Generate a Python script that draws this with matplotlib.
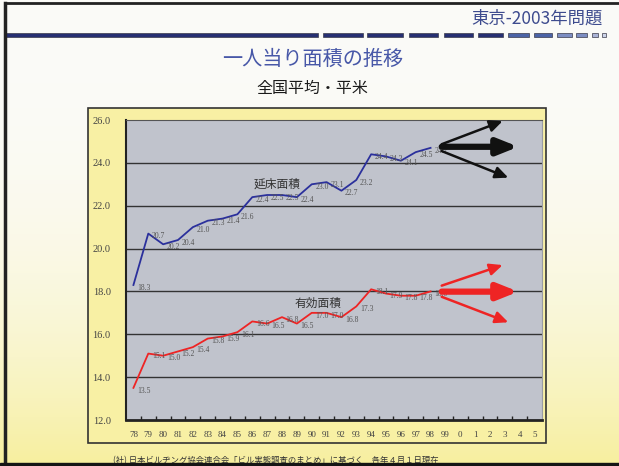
import numpy as np
import matplotlib
matplotlib.use("Agg")
import matplotlib.pyplot as plt
from matplotlib.patches import Rectangle

plt.rcParams['font.family'] = ['Liberation Serif', 'Noto Sans CJK JP']
JP = ['Noto Sans CJK JP', 'DejaVu Sans']

# データ
years = ['78', '79', '80', '81', '82', '83', '84', '85', '86', '87', '88', '89',
         '90', '91', '92', '93', '94', '95', '96', '97', '98', '99',
         '0', '1', '2', '3', '4', '5']
total_area = [18.3, 20.7, 20.2, 20.4, 21.0, 21.3, 21.4, 21.6, 22.4, 22.5, 22.5,
              22.4, 23.0, 23.1, 22.7, 23.2, 24.4, 24.3, 24.1, 24.5, 24.7]
net_area = [13.5, 15.1, 15.0, 15.2, 15.4, 15.8, 15.9, 16.1, 16.6, 16.5, 16.8,
            16.5, 17.0, 17.0, 16.8, 17.3, 18.1, 17.9, 17.8, 17.8, 18.0]
yticks = [12.0, 14.0, 16.0, 18.0, 20.0, 22.0, 24.0, 26.0]

# 矢印 (始点の値, 終点の位置, 終点の値)
total_arrows = [(24.87, 24.85, 25.95), (24.75, 25.91, 24.75), (24.55, 25.23, 23.31)]
net_arrows = [(18.27, 24.85, 19.23), (17.99, 25.91, 17.99), (17.75, 25.23, 16.56)]
arrow_x0 = 20.75

W, H = 619, 466
fig = plt.figure(figsize=(W / 100, H / 100), dpi=100)

# 背景 (ピクセル座標)
bg = fig.add_axes([0, 0, 1, 1])
bg.set_xlim(0, W)
bg.set_ylim(H, 0)
bg.axis('off')
t = np.linspace(0, 1, 256) ** 2.6
top = np.array([251, 251, 248]) / 255
bot = np.array([247, 239, 158]) / 255
grad = top[None, :] * (1 - t[:, None]) + bot[None, :] * t[:, None]
bg.imshow(grad[:, None, :], extent=[0, W, H, 0], aspect='auto', zorder=0)

# 枠線
bg.plot([5, 5], [3, H], color='#222222', lw=2.5, zorder=5)
bg.plot([5, W], [3, 3], color='#222222', lw=2, zorder=5)
bg.add_patch(Rectangle((0, 463), W, 5, color='#151515', zorder=6))

# ヘッダーの破線
dashes = [(5, 318), (322.7, 362.7), (366.7, 402.7), (409.3, 438.3), (444.3, 472.7),
          (477.7, 502.7), (507.7, 529.3), (534.3, 552.3), (556.7, 572.3),
          (576, 586.7), (591.7, 598.3), (601.7, 606)]
dash_colors = ['#262f72'] * 6 + ['#4b63a6'] * 2 + ['#7c8dc2'] * 2 + ['#aab3d6', '#cdd4ea']
for (x0, x1), c in zip(dashes, dash_colors):
    bg.add_patch(Rectangle((x0, 33), x1 - x0, 4, facecolor=c, edgecolor='#3a3a4a',
                           lw=0.5, zorder=4))

bg.text(603, 19, '東京-2003年問題', family=JP, fontsize=12.5, color='#3d4b8e',
        ha='right', va='center')
bg.text(313, 59, '一人当り面積の推移', family=JP, fontsize=14.5, color='#4858a8',
        ha='center', va='center')
bg.text(312, 88, '全国平均・平米', family=JP, fontsize=11.5, color='#1a1a1a',
        ha='center', va='center')

# グラフ枠 (黄色)
bg.add_patch(Rectangle((88, 108), 458, 335, facecolor='#f8f0a4', edgecolor='#333333',
                       lw=1.2, zorder=2))
bg.text(113, 461, '(社) 日本ビルヂング協会連合会「ビル実態調査のまとめ」に基づく　各年４月１日現在',
        family=JP, fontsize=6, color='#333333', ha='left', va='center', zorder=3)

# メインのグラフ
ax = fig.add_axes([126 / W, 1 - 420 / H, 416 / W, 300 / H], zorder=3)
ax.set_facecolor('#c0c3cc')
x = np.arange(len(years))
ax.set_xlim(-0.5, len(years) - 0.5)
ax.set_ylim(12, 26)

for v in yticks[1:-1]:
    ax.axhline(v, color='#333333', lw=1.0, zorder=1)

ax.plot(x[:len(total_area)], total_area, color='#2b309c', lw=1.3, zorder=3)
ax.plot(x[:len(net_area)], net_area, color='#ee2424', lw=1.3, zorder=3)

for xi, v in zip(x, total_area):
    ax.annotate(f'{v:.1f}', (xi, v), xytext=(7.5, -2), textcoords='offset points',
                ha='center', va='center', fontsize=5.5, color='#555555', zorder=4)
for xi, v in zip(x, net_area):
    ax.annotate(f'{v:.1f}', (xi, v), xytext=(7.5, -2), textcoords='offset points',
                ha='center', va='center', fontsize=5.5, color='#555555', zorder=4)

ax.text(9.64, 23.0, '延床面積', family=JP, fontsize=8.5, color='#333333',
        ha='center', va='center')
ax.text(12.42, 17.45, '有効面積', family=JP, fontsize=8.5, color='#333333',
        ha='center', va='center')

# 矢印
for arrows, col in [(total_arrows, '#111111'), (net_arrows, '#ee2424')]:
    for i, (y0, x1, y1) in enumerate(arrows):
        mid = i == 1
        style = ('-|>,head_length=0.6,head_width=0.24' if mid
                 else '-|>,head_length=0.55,head_width=0.25')
        ax.annotate('', xy=(x1, y1), xytext=(arrow_x0, y0),
                    arrowprops=dict(arrowstyle=style, color=col,
                                    lw=4.5 if mid else 1.8,
                                    mutation_scale=20 if mid else 14,
                                    shrinkA=0, shrinkB=0),
                    zorder=5)

ax.set_yticks(yticks)
ax.set_yticklabels([f'{v:.1f}' for v in yticks], fontsize=7.5, color='#444444')
ax.tick_params(axis='y', length=0, pad=11)
ax.set_xticks(x)
ax.set_xticklabels(years, fontsize=6.5, color='#444444')
ax.set_xticks(np.arange(0.5, len(years) - 1, 1), minor=True)
ax.tick_params(axis='x', which='major', length=0, pad=8)
ax.tick_params(axis='x', which='minor', direction='in', length=3, width=1,
               color='#222222')

ax.spines['left'].set_color('#222222')
ax.spines['left'].set_linewidth(1.5)
ax.spines['bottom'].set_color('#222222')
ax.spines['bottom'].set_linewidth(2)
ax.spines['top'].set_color('#555555')
ax.spines['right'].set_color('#9a9ca4')

fig.savefig('out.png', dpi=100)
